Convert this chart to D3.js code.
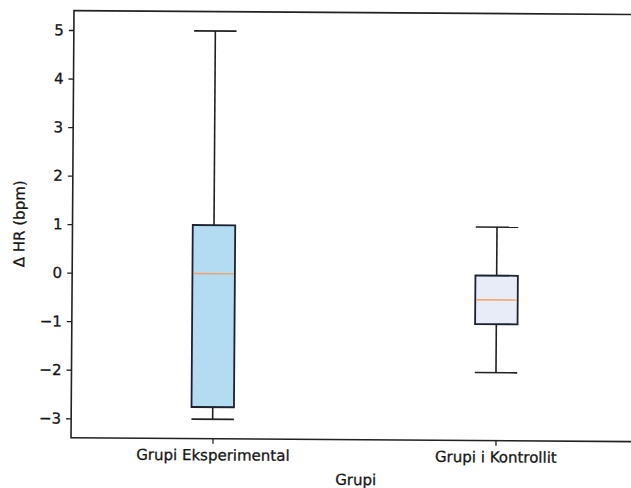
<!DOCTYPE html>
<html>
<head>
<meta charset="utf-8">
<script src="https://cdn.jsdelivr.net/npm/d3@7"></script>
<style>
  html, body { margin: 0; padding: 0; background: #fff; }
  svg { display: block; }
  text { font-family: "DejaVu Sans", sans-serif; fill: #161616; stroke: #161616; stroke-width: 0.3px; }
</style>
</head>
<body>
<svg id="chart" width="631" height="488"></svg>
<script>
// Box statistics per group (ΔHR, bpm)
const groups = ["Grupi Eksperimental", "Grupi i Kontrollit"];
const whiskerLow = [-3, -2];
const q1 = [-2.75, -1];
const median = [0, -0.5];
const q3 = [1, 0];
const whiskerHigh = [5, 1];
const yTicks = [-3, -2, -1, 0, 1, 2, 3, 4, 5];

const boxFills = ["#b3dcf3", "#e8ebf8"];

const svg = d3.select("#chart");
const g = svg.append("g")
  .attr("transform", "rotate(0.4, 74, 10.6)");

const x = d3.scaleLinear().domain([0.5, 2.5]).range([74, 640]);
const y = d3.scaleLinear().domain([-3.4, 5.4]).range([437.7, 10.6]);

const boxW = 0.15;   // box width in position units
const capW = 0.075;  // cap width in position units

// frame
g.append("rect")
  .attr("x", x(0.5)).attr("y", y(5.4))
  .attr("width", x(2.5) - x(0.5)).attr("height", y(-3.4) - y(5.4))
  .attr("fill", "none").attr("stroke", "#222").attr("stroke-width", 1.6);

// y axis
const yAxis = g.append("g")
  .attr("transform", `translate(${x(0.5)},0)`)
  .call(d3.axisLeft(y).tickValues(yTicks).tickSize(5).tickPadding(5).tickFormat(d3.format("d")));
yAxis.select(".domain").remove();
yAxis.selectAll(".tick line").attr("stroke", "#222").attr("stroke-width", 1.3);
yAxis.selectAll(".tick text").style("font-size", "15px");

// x axis
const xAxis = g.append("g")
  .attr("transform", `translate(0,${y(-3.4)})`)
  .call(d3.axisBottom(x).tickValues([1, 2]).tickSize(5).tickPadding(6)
    .tickFormat((d) => groups[d - 1]));
xAxis.select(".domain").remove();
xAxis.selectAll(".tick line").attr("stroke", "#222").attr("stroke-width", 1.3);
xAxis.selectAll(".tick text").style("font-size", "15px");

// axis titles
g.append("text")
  .attr("x", x(1.5) + 2).attr("y", 483)
  .attr("text-anchor", "middle")
  .style("font-size", "15px")
  .text("Grupi");

g.append("text")
  .attr("transform", `translate(26,${(y(5.4) + y(-3.4)) / 2}) rotate(-90)`)
  .attr("text-anchor", "middle")
  .style("font-size", "15px")
  .text("Δ HR (bpm)");

// boxes
const boxes = g.append("g").selectAll("g.box")
  .data(groups.map((name, i) => ({ i, pos: i + 1 })))
  .join("g").attr("class", "box");

// whiskers
boxes.append("line")
  .attr("x1", (d) => x(d.pos)).attr("x2", (d) => x(d.pos))
  .attr("y1", (d) => y(q3[d.i])).attr("y2", (d) => y(whiskerHigh[d.i]))
  .attr("stroke", "#222").attr("stroke-width", 1.6);
boxes.append("line")
  .attr("x1", (d) => x(d.pos)).attr("x2", (d) => x(d.pos))
  .attr("y1", (d) => y(q1[d.i])).attr("y2", (d) => y(whiskerLow[d.i]))
  .attr("stroke", "#222").attr("stroke-width", 1.6);

// caps
boxes.append("line")
  .attr("x1", (d) => x(d.pos - capW)).attr("x2", (d) => x(d.pos + capW))
  .attr("y1", (d) => y(whiskerHigh[d.i])).attr("y2", (d) => y(whiskerHigh[d.i]))
  .attr("stroke", "#222").attr("stroke-width", 1.6);
boxes.append("line")
  .attr("x1", (d) => x(d.pos - capW)).attr("x2", (d) => x(d.pos + capW))
  .attr("y1", (d) => y(whiskerLow[d.i])).attr("y2", (d) => y(whiskerLow[d.i]))
  .attr("stroke", "#222").attr("stroke-width", 1.6);

// box bodies
boxes.append("rect")
  .attr("x", (d) => x(d.pos - boxW / 2))
  .attr("width", (d) => x(d.pos + boxW / 2) - x(d.pos - boxW / 2))
  .attr("y", (d) => y(q3[d.i]))
  .attr("height", (d) => y(q1[d.i]) - y(q3[d.i]))
  .attr("fill", (d) => boxFills[d.i])
  .attr("stroke", "#1c2230").attr("stroke-width", 1.8);

// medians
boxes.append("line")
  .attr("x1", (d) => x(d.pos - boxW / 2) + 1).attr("x2", (d) => x(d.pos + boxW / 2) - 1)
  .attr("y1", (d) => y(median[d.i])).attr("y2", (d) => y(median[d.i]))
  .attr("stroke", "#f5a060").attr("stroke-width", 1.3);
</script>
</body>
</html>
